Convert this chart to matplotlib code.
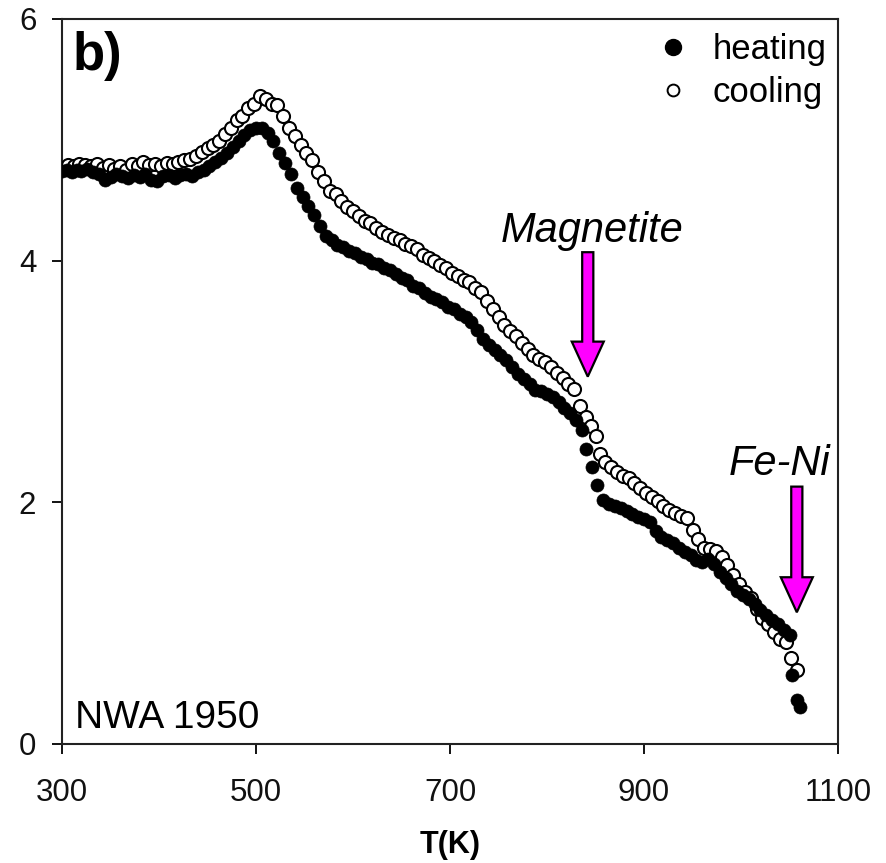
import matplotlib
matplotlib.use("Agg")
import matplotlib.pyplot as plt
from matplotlib.patches import FancyArrow
from matplotlib.lines import Line2D

plt.rcParams["font.family"] = ["Liberation Sans", "DejaVu Sans"]

# Heating run (filled symbols)
heat_T = [300, 305, 310, 315, 320, 326, 332, 338, 344, 350, 356, 362, 368, 374, 380,
          386, 392, 398, 404, 410, 416, 422, 428, 434, 440, 446, 452, 458, 464, 470,
          476, 482, 488, 494, 500, 506, 512, 518, 524, 530, 536, 542, 548, 554, 560,
          566, 572, 578, 584, 590, 596, 602, 608, 614, 620, 626, 632, 638, 644, 650,
          656, 662, 668, 674, 680, 686, 692, 698, 704, 710, 716, 722, 728, 734, 740,
          746, 752, 758, 764, 770, 776, 782, 788, 794, 800, 806, 812, 818, 824, 830,
          836, 840, 846, 852, 858, 864, 870, 876, 882, 888, 894, 900, 906, 912, 918,
          924, 930, 936, 942, 948, 954, 960, 966, 972, 978, 984, 990, 996, 1002, 1008,
          1014, 1020, 1026, 1032, 1038, 1044, 1050, 1053, 1058, 1061]
heat_M = [4.74, 4.75, 4.73, 4.75, 4.74, 4.76, 4.73, 4.72, 4.67, 4.69, 4.72, 4.70, 4.68, 4.71, 4.69,
          4.72, 4.67, 4.66, 4.70, 4.71, 4.68, 4.71, 4.72, 4.70, 4.73, 4.75, 4.78, 4.82, 4.85, 4.89,
          4.94, 4.99, 5.04, 5.08, 5.10, 5.10, 5.06, 4.99, 4.89, 4.81, 4.72, 4.60, 4.53, 4.45, 4.38,
          4.29, 4.20, 4.17, 4.13, 4.11, 4.08, 4.06, 4.03, 4.01, 3.98, 3.97, 3.94, 3.92, 3.89, 3.86,
          3.84, 3.79, 3.77, 3.73, 3.70, 3.68, 3.66, 3.62, 3.60, 3.56, 3.53, 3.49, 3.43, 3.35, 3.30,
          3.26, 3.22, 3.18, 3.12, 3.06, 3.02, 2.98, 2.93, 2.92, 2.90, 2.87, 2.83, 2.78, 2.74, 2.68,
          2.60, 2.44, 2.29, 2.14, 2.02, 1.99, 1.97, 1.95, 1.93, 1.90, 1.88, 1.86, 1.84, 1.76, 1.71,
          1.69, 1.66, 1.62, 1.59, 1.56, 1.52, 1.51, 1.53, 1.49, 1.42, 1.37, 1.32, 1.27, 1.23, 1.20,
          1.16, 1.11, 1.07, 1.03, 0.99, 0.94, 0.90, 0.57, 0.36, 0.31]

# Cooling run (open symbols)
cool_T = [300, 306, 312, 318, 324, 330, 336, 342, 348, 354, 360, 366, 372, 378, 384,
          390, 396, 402, 408, 414, 420, 426, 432, 438, 444, 450, 456, 462, 468, 474,
          480, 486, 492, 498, 504, 510, 516, 522, 528, 534, 540, 546, 552, 558, 564,
          570, 576, 582, 588, 594, 600, 606, 612, 618, 624, 630, 636, 642, 648, 654,
          660, 666, 672, 678, 684, 690, 696, 702, 708, 714, 720, 726, 732, 738, 744,
          750, 756, 762, 768, 774, 780, 786, 792, 798, 804, 810, 816, 822, 828, 834,
          840, 845, 850, 855, 860, 866, 872, 878, 884, 890, 896, 902, 908, 914, 920,
          926, 932, 938, 944, 950, 956, 962, 968, 974, 980, 986, 992, 998, 1004, 1010,
          1016, 1022, 1028, 1034, 1040, 1046, 1052, 1058]
cool_M = [4.77, 4.79, 4.78, 4.80, 4.79, 4.78, 4.80, 4.77, 4.79, 4.76, 4.78, 4.75, 4.80, 4.78, 4.82,
          4.79, 4.80, 4.78, 4.81, 4.80, 4.82, 4.83, 4.84, 4.87, 4.90, 4.93, 4.96, 4.99, 5.05, 5.10,
          5.16, 5.20, 5.26, 5.30, 5.36, 5.34, 5.30, 5.29, 5.20, 5.10, 5.03, 4.96, 4.89, 4.83, 4.73,
          4.66, 4.58, 4.55, 4.49, 4.44, 4.41, 4.37, 4.33, 4.31, 4.27, 4.24, 4.21, 4.19, 4.17, 4.14,
          4.12, 4.10, 4.05, 4.02, 4.00, 3.96, 3.94, 3.90, 3.87, 3.84, 3.82, 3.77, 3.74, 3.67, 3.60,
          3.53, 3.47, 3.42, 3.38, 3.32, 3.27, 3.22, 3.19, 3.16, 3.12, 3.07, 3.03, 2.98, 2.94, 2.80,
          2.71, 2.63, 2.55, 2.40, 2.33, 2.29, 2.25, 2.22, 2.20, 2.16, 2.12, 2.08, 2.04, 2.01, 1.97,
          1.94, 1.91, 1.89, 1.87, 1.77, 1.70, 1.62, 1.61, 1.60, 1.55, 1.48, 1.40, 1.32, 1.26, 1.21,
          1.12, 1.04, 0.99, 0.93, 0.87, 0.84, 0.71, 0.61]

x_ticks = [300, 500, 700, 900, 1100]
y_ticks = [0, 2, 4, 6]

# Transition markers: (label, temperature, arrow top, arrow tip)
magnetite = ("Magnetite", 842, 4.07, 3.04)
fe_ni = ("Fe-Ni", 1057.5, 2.13, 1.09)

fig = plt.figure(figsize=(8.87, 8.63), dpi=100)
ax = fig.add_axes([0.0699, 0.1379, 0.8749, 0.8401])

ax.plot(cool_T, cool_M, linestyle="none", marker="o", ms=9.4, mfc="white",
        mec="black", mew=1.5, zorder=3)
ax.plot(heat_T, heat_M, linestyle="none", marker="o", ms=9.4, mfc="black",
        mec="black", mew=0.5, zorder=4)

ax.set_xlim(300, 1100)
ax.set_ylim(0, 6)
ax.set_xticks(x_ticks)
ax.set_yticks(y_ticks)
ax.tick_params(axis="x", direction="out", length=7.5, width=1.4, pad=17,
               labelsize=22.5, colors="#111111")
ax.tick_params(axis="y", direction="out", length=7.5, width=1.4, pad=11,
               labelsize=22.5, colors="#111111")
for sp in ax.spines.values():
    sp.set_linewidth(1.5)
    sp.set_color("#222222")

ax.set_xlabel("T(K)", fontsize=22, fontweight="bold", labelpad=16)

# Arrows marking the transitions
for name, t, top, tip in (magnetite, fe_ni):
    arr = FancyArrow(t, top, 0, tip - top, width=11.5, head_width=33,
                     head_length=0.29, length_includes_head=True,
                     facecolor="#ff00ff", edgecolor="black", linewidth=1.6,
                     zorder=6)
    ax.add_patch(arr)

ax.text(846, 4.156, magnetite[0], fontsize=30, fontstyle="italic",
        ha="center", va="baseline", zorder=7)
ax.text(1040, 2.227, fe_ni[0], fontsize=30, fontstyle="italic",
        ha="center", va="baseline", zorder=7)

ax.text(0.014, 0.93, "b)", transform=ax.transAxes, fontsize=38,
        fontweight="bold", ha="left", va="baseline")
ax.text(313, 0.13, "NWA 1950", fontsize=28, ha="left", va="baseline")

legend_handles = [
    Line2D([], [], linestyle="none", marker="o", ms=11.5, mfc="black", mec="black"),
    Line2D([], [], linestyle="none", marker="o", ms=8.5, mfc="white", mec="black", mew=1.4),
]
ax.legend(legend_handles, ["heating", "cooling"],
          loc="upper right", bbox_to_anchor=(0.994, 0.99),
          frameon=False, fontsize=25, handlelength=0.8,
          handletextpad=0.75, labelspacing=0.28, borderpad=0.2,
          borderaxespad=0)

fig.savefig("out.png", dpi=100)
